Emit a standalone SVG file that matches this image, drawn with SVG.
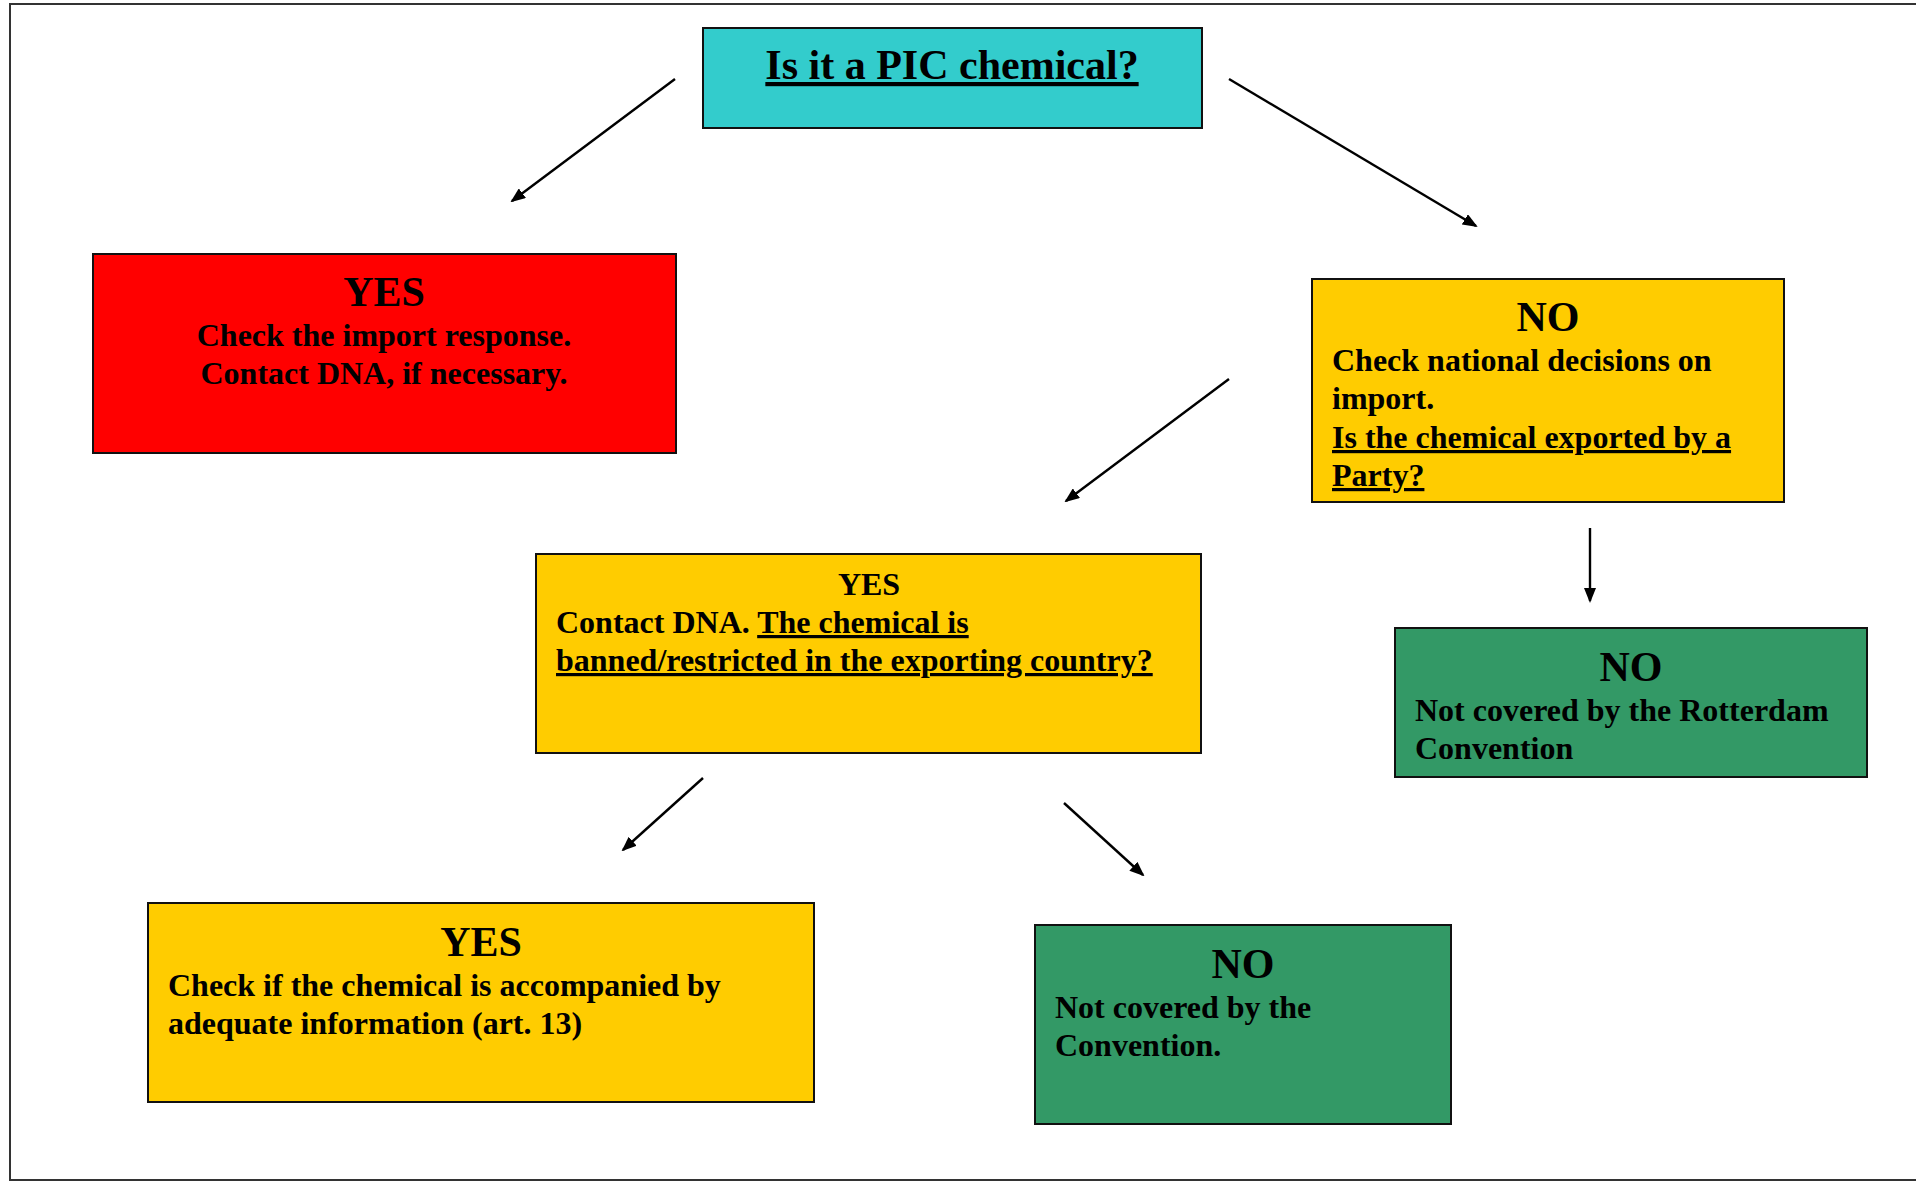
<svg xmlns="http://www.w3.org/2000/svg" width="1916" height="1181" viewBox="0 0 1916 1181">
<style>
.box{stroke:#111;stroke-width:2}
.t{font-family:"Liberation Serif","Times New Roman",serif;font-weight:bold;fill:#000}
.h{font-size:42px;text-anchor:middle}
.b{font-size:32px}
.u{text-decoration:underline}
.c{stroke:#000;stroke-width:2.4;fill:none;marker-end:url(#ah)}
</style>
<defs>
<marker id="ah" viewBox="0 0 15 12" refX="13" refY="6" markerWidth="15" markerHeight="12" markerUnits="userSpaceOnUse" orient="auto">
<path d="M0,0 L15,6 L0,12 z" fill="#000"/>
</marker>
</defs>
<rect x="0" y="0" width="1916" height="1181" fill="#fff"/>
<path d="M1916,4 H10 V1180 H1916" fill="none" stroke="#333" stroke-width="2"/>

<g id="q-pic">
<rect class="box" x="703" y="28" width="499" height="100" fill="#33CCCC"/>
<text class="t h u" x="952" y="79">Is it a PIC chemical?</text>
</g>

<g id="yes-pic">
<rect class="box" x="93" y="254" width="583" height="199" fill="#FF0000"/>
<text class="t h" x="384" y="306">YES</text>
<text class="t b" x="384" y="346" text-anchor="middle">Check the import response.</text>
<text class="t b" x="384" y="384" text-anchor="middle">Contact DNA, if necessary.</text>
</g>

<g id="no-pic">
<rect class="box" x="1312" y="279" width="472" height="223" fill="#FFCC00"/>
<text class="t h" x="1548" y="331">NO</text>
<text class="t b" x="1332" y="371">Check national decisions on</text>
<text class="t b" x="1332" y="409">import.</text>
<text class="t b u" x="1332" y="448">Is the chemical exported by a</text>
<text class="t b u" x="1332" y="486">Party?</text>
</g>

<g id="yes-party">
<rect class="box" x="536" y="554" width="665" height="199" fill="#FFCC00"/>
<text class="t b" x="869" y="595" text-anchor="middle">YES</text>
<text class="t b" x="556" y="633">Contact DNA. <tspan class="u">The chemical is</tspan></text>
<text class="t b u" x="556" y="671">banned/restricted in the exporting country?</text>
</g>

<g id="no-party">
<rect class="box" x="1395" y="628" width="472" height="149" fill="#339966"/>
<text class="t h" x="1631" y="681">NO</text>
<text class="t b" x="1415" y="721">Not covered by the Rotterdam</text>
<text class="t b" x="1415" y="759">Convention</text>
</g>

<g id="yes-banned">
<rect class="box" x="148" y="903" width="666" height="199" fill="#FFCC00"/>
<text class="t h" x="481" y="956">YES</text>
<text class="t b" x="168" y="996">Check if the chemical is accompanied by</text>
<text class="t b" x="168" y="1034">adequate information (art. 13)</text>
</g>

<g id="no-banned">
<rect class="box" x="1035" y="925" width="416" height="199" fill="#339966"/>
<text class="t h" x="1243" y="978">NO</text>
<text class="t b" x="1055" y="1018">Not covered by the</text>
<text class="t b" x="1055" y="1056">Convention.</text>
</g>

<g id="connectors">
<line class="c" x1="675" y1="79" x2="512" y2="201"/>
<line class="c" x1="1229" y1="79" x2="1476" y2="226"/>
<line class="c" x1="1229" y1="379" x2="1066" y2="501"/>
<line class="c" x1="1590" y1="528" x2="1590" y2="601"/>
<line class="c" x1="703" y1="778" x2="623" y2="850"/>
<line class="c" x1="1064" y1="803" x2="1143" y2="875"/>
</g>
</svg>
